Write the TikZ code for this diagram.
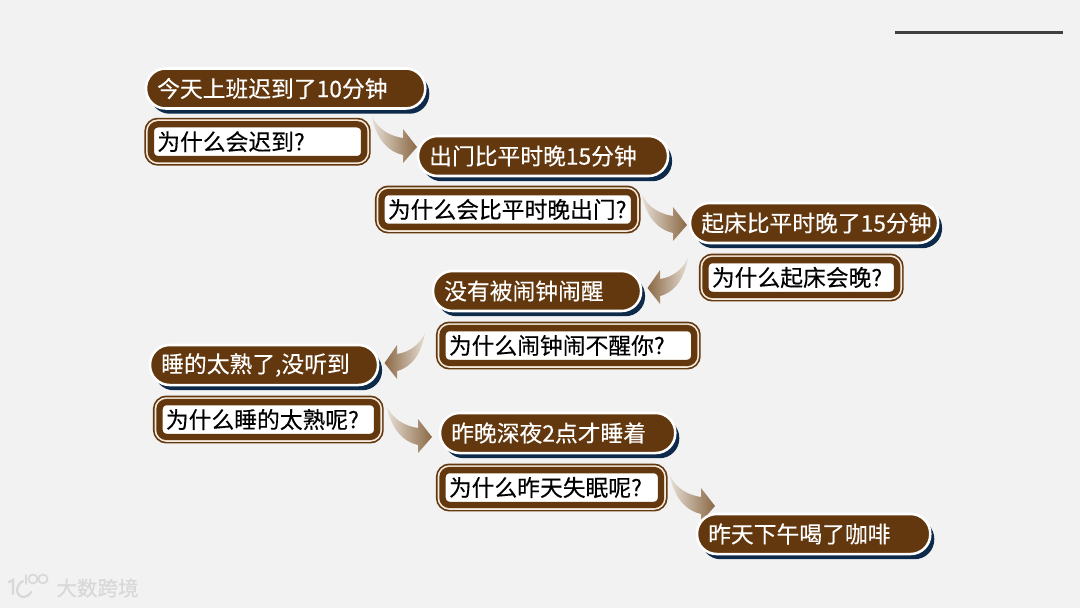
\documentclass[tikz,border=0pt]{standalone}
\usepackage{fontspec}
\setmainfont{Noto Sans CJK SC}[BoldFont={Noto Sans CJK SC},BoldFeatures={FakeBold=0.25}]
\usetikzlibrary{shadows}
\definecolor{pagebg}{HTML}{F2F2F2}
\definecolor{barkbrown}{HTML}{63380F}
\definecolor{shadownavy}{HTML}{0D2A4A}
\definecolor{ringcream}{HTML}{F6EADD}
\definecolor{arrowlight}{HTML}{E6DED4}
\definecolor{arrowdark}{HTML}{8A6844}
\definecolor{markgray}{HTML}{D8D8D8}
\begin{document}
\begin{tikzpicture}[
    x=0.025cm, y=-0.025cm,
    pill/.style={anchor=west, outer sep=0pt, draw=white, line width=1.8pt, fill=barkbrown, text=white, rounded corners=0.49cm,
      minimum height=1cm, inner xsep=0.28cm, inner ysep=0pt, align=left, font=\fontsize{16.2pt}{18pt}\selectfont\bfseries,
      general shadow={fill=shadownavy, shadow xshift=0.1cm, shadow yshift=-0.13cm}},
    qbox/.style={anchor=west, outer sep=0pt, draw=barkbrown, line width=4.5pt, fill=white, text=black, rounded corners=5pt,
      minimum height=0.87cm, inner xsep=0.16cm, inner ysep=0pt, align=left, font=\fontsize{16.2pt}{18pt}\selectfont\bfseries,
      preaction={draw=barkbrown, line width=9.3pt}, preaction={draw=ringcream, line width=6.9pt}},
    arrowr/.style={left color=arrowlight, right color=arrowdark},
    arrowl/.style={right color=arrowlight, left color=arrowdark},
    pics/flowarrow/.style={code={
      \shade[#1] (0,0) .. controls (7,13) and (18,19) .. (31,21) -- (31,12) -- (45,30) -- (31,46) -- (31,38)
        .. controls (14,34) and (4,20) .. (0,0) -- cycle;}}]
  % page
  \fill[pagebg] (0,0) rectangle (1080,608);
  \useasboundingbox (0,0) rectangle (1080,608);
  % top rule
  \coordinate (rulea) at (895,32.3);
  \coordinate (ruleb) at (1063,32.3);
  \draw[line width=2.1pt, black!75] (rulea) -- (ruleb);
  % arrows
  \coordinate (a1) at (372,117);
  \coordinate (a2) at (642,195);
  \coordinate (a3) at (688,258);
  \coordinate (a4) at (425,333);
  \coordinate (a5) at (387,407);
  \coordinate (a6) at (670,476);
  \pic at (a1) {flowarrow=arrowr};
  \pic at (a2) {flowarrow=arrowr};
  \pic[xscale=-0.9] at (a3) {flowarrow=arrowl};
  \pic[xscale=-0.9] at (a4) {flowarrow=arrowl};
  \pic at (a5) {flowarrow=arrowr};
  \pic at (a6) {flowarrow=arrowr};
  % causes
  \node[pill, text width=6.42cm] (p1) at (146,88.5) {今天上班迟到了10分钟};
  \node[pill, text width=5.69cm] (p2) at (418,156) {出门比平时晚15分钟};
  \node[pill, text width=5.64cm] (p3) at (690,223) {起床比平时晚了15分钟};
  \node[pill, text width=4.64cm] (p4) at (433,291) {没有被闹钟闹醒};
  \node[pill, text width=5.14cm] (p5) at (150,365) {睡的太熟了,没听到};
  \node[pill, text width=5.32cm] (p6) at (440,433) {昨晚深夜2点才睡着};
  \node[pill, text width=5.27cm] (p7) at (697,534) {昨天下午喝了咖啡};
  % questions
  \node[qbox, text width=5.01cm] (q1) at (150.9,141.7) {为什么会迟到?};
  \node[qbox, text width=5.99cm] (q2) at (381.5,209.5) {为什么会比平时晚出门?};
  \node[qbox, text width=4.47cm] (q3) at (705.5,277.5) {为什么起床会晚?};
  \node[qbox, text width=5.97cm] (q4) at (442.5,345.5) {为什么闹钟闹不醒你?};
  \node[qbox, text width=5.12cm] (q5) at (159.5,419.5) {为什么睡的太熟呢?};
  \node[qbox, text width=5.14cm] (q6) at (442.5,487.5) {为什么昨天失眠呢?};
  % watermark
  \draw[markgray, line width=1.6pt, line cap=round] (9,582) -- (13,580) -- (13,594);
  \draw[markgray, line width=1.6pt, line cap=round] (23,581) .. controls (15,585) and (15,597) .. (24,597) .. controls (27,597) and (29,595) .. (31,592);
  \draw[markgray, line width=1.2pt, line cap=round] (26,575) -- (26,584);
  \draw[markgray, line width=1.2pt] (33,579) ellipse (4.5 and 4.5);
  \draw[markgray, line width=1.2pt] (43,579) ellipse (4.5 and 4.5);
  \node[text=markgray, font=\fontsize{14.6pt}{16pt}\selectfont\bfseries, inner sep=0pt] (markname) at (97.5,588) {大数跨境};
\end{tikzpicture}
\end{document}
